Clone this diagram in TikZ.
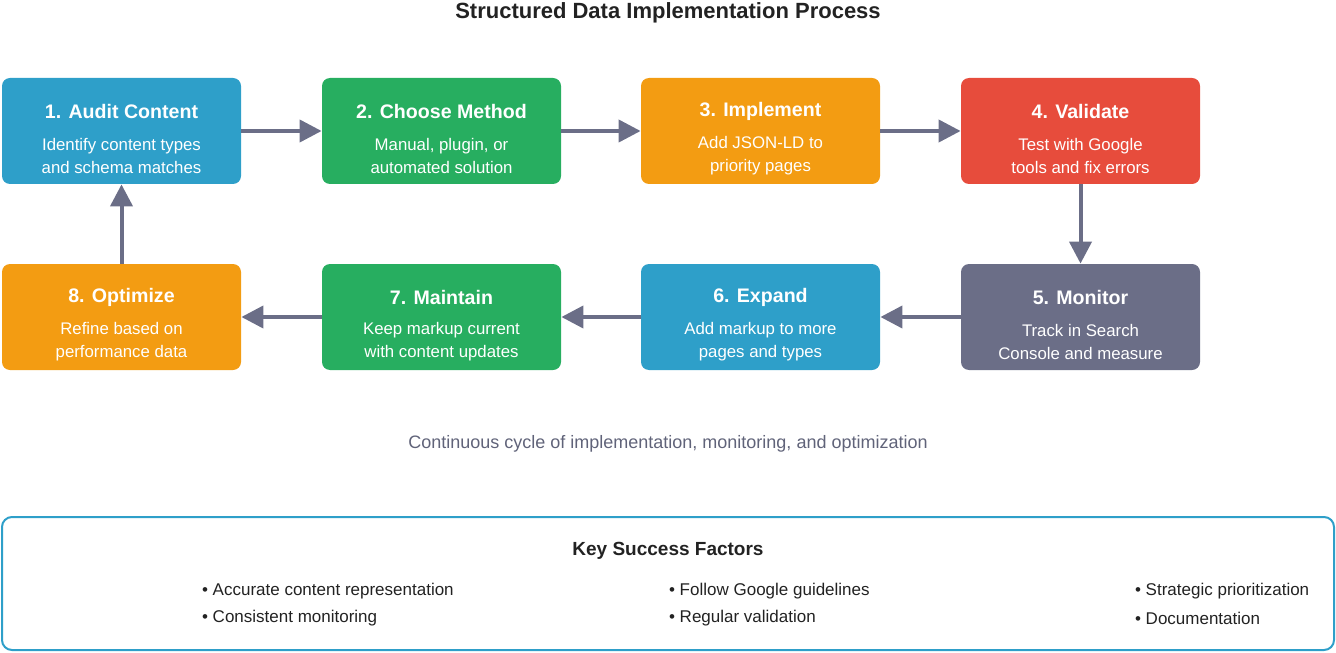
\documentclass[tikz,border=0pt]{standalone}
\usepackage{fontspec}
\setmainfont{Liberation Sans}
\usetikzlibrary{arrows.meta}
\definecolor{cblue}{HTML}{2E9FC9}
\definecolor{cgreen}{HTML}{27AE60}
\definecolor{corange}{HTML}{F39C12}
\definecolor{cred}{HTML}{E74C3C}
\definecolor{cgray}{HTML}{6B6E87}
\definecolor{ctext}{HTML}{222222}
\begin{document}
\begin{tikzpicture}[x=0.5pt,y=-0.5pt,
  box/.style={rounded corners=4pt,minimum width=119.5pt,minimum height=53pt,inner sep=0pt,text=white,align=center},
  arr/.style={draw=cgray,line width=2pt,-{Triangle[length=11pt,width=11pt]}},
  bul/.style={anchor=west,font=\fontsize{8.5pt}{10pt}\selectfont,text=ctext}]
\useasboundingbox (0,0) rectangle (1336,652);
\node[font=\bfseries\fontsize{11pt}{13pt}\selectfont,text=ctext] (title) at (668,13) {Structured Data Implementation Process};
\newcommand{\stepbox}[6]{%
\node[box,fill=#4] (#1) at (#2,#3) {};
\node[text=white,font=\bfseries\fontsize{9.8pt}{11pt}\selectfont] (#1t) at (#2,#3-20) {#5};
\node[text=white,font=\fontsize{8.4pt}{11.5pt}\selectfont,align=center] (#1b) at (#2,#3+25) {#6};}
\stepbox{s1}{121.5}{131}{cblue}{1. Audit Content}{Identify content types\\and schema matches}
\stepbox{s2}{441.5}{131}{cgreen}{2. Choose Method}{Manual, plugin, or\\automated solution}
\stepbox{s3}{760.5}{131}{corange}{3. Implement}{Add JSON-LD to\\priority pages}
\stepbox{s4}{1080.5}{131}{cred}{4. Validate}{Test with Google\\tools and fix errors}
\stepbox{s5}{1080.5}{317}{cgray}{5. Monitor}{Track in Search\\Console and measure}
\stepbox{s6}{760.5}{317}{cblue}{6. Expand}{Add markup to more\\pages and types}
\stepbox{s7}{441.5}{317}{cgreen}{7. Maintain}{Keep markup current\\with content updates}
\stepbox{s8}{121.5}{317}{corange}{8. Optimize}{Refine based on\\performance data}
\draw[arr] (s1) -- (s2);
\draw[arr] (s2) -- (s3);
\draw[arr] (s3) -- (s4);
\draw[arr] (s4) -- (s5);
\draw[arr] (s5) -- (s6);
\draw[arr] (s6) -- (s7);
\draw[arr] (s7) -- (s8);
\draw[arr] (s8) -- (s1);
\node[text=cgray!90!black,font=\fontsize{9pt}{10pt}\selectfont] (cap) at (668,444) {Continuous cycle of implementation, monitoring, and optimization};
\node[draw=cblue,line width=1pt,rounded corners=5pt,minimum width=666pt,minimum height=66.5pt,inner sep=0pt] (ksf) at (668,583.5) {};
\node[font=\bfseries\fontsize{9.5pt}{11pt}\selectfont,text=ctext] (ksft) at (668,551) {Key Success Factors};
\node[bul] (b1) at (195,591) {• Accurate content representation};
\node[bul] (b2) at (195,618) {• Consistent monitoring};
\node[bul] (b3) at (662,591) {• Follow Google guidelines};
\node[bul] (b4) at (662,618) {• Regular validation};
\node[bul] (b5) at (1128,591) {• Strategic prioritization};
\node[bul] (b6) at (1128,618) {• Documentation};
\end{tikzpicture}
\end{document}
